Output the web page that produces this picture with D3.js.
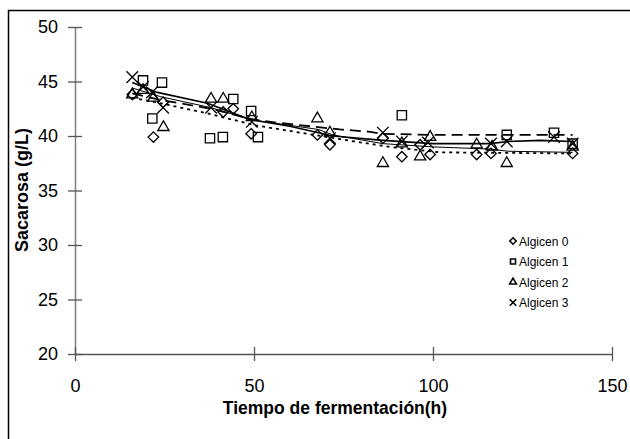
<!DOCTYPE html>
<html>
<head>
<meta charset="utf-8">
<script src="https://cdn.jsdelivr.net/npm/d3@7"></script>
<style>
  body { margin: 0; background: #fff; }
  svg text { font-family: "Liberation Sans", Arial, sans-serif; }
</style>
</head>
<body>
<div id="viz"></div>
<script>
const w = 630, h = 439;

// series data [tiempo (h), sacarosa (g/L)]
const algicen0 = [[16, 43.8], [21.9, 39.9], [24.6, 43.1], [41.4, 42.2], [44.2, 42.5], [49.2, 40.2],
  [67.7, 40.1], [71.2, 39.2], [86, 39.8], [91.3, 38.1], [96.4, 39.2], [99.2, 38.3],
  [112.2, 38.3], [116.2, 38.4], [139, 38.4]];
const algicen1 = [[19, 45.1], [21.6, 41.6], [24.3, 44.9], [37.7, 39.8], [41.3, 39.9], [44.2, 43.4],
  [49.2, 42.3], [51.1, 39.9], [91.3, 41.9], [120.6, 40.1], [133.8, 40.3], [139, 39.3]];
const algicen2 = [[16, 43.8], [19, 44.2], [21.9, 43.5], [24.7, 40.8], [38, 43.4], [41.4, 43.4],
  [49.4, 41.7], [67.7, 41.6], [71.2, 40.3], [86, 37.5], [91.3, 39.3], [96.4, 38.1], [99.2, 39.9],
  [112.2, 39.2], [116.5, 39.0], [120.6, 37.5], [139, 39.0]];
const algicen3 = [[16, 45.4], [19, 44.5], [21.5, 44.0], [24.6, 42.6], [38, 42.6], [49.4, 41.3],
  [71.2, 39.8], [86, 40.3], [91.3, 39.5], [98.6, 39.4], [116.2, 39.3], [120.6, 39.5],
  [133.8, 39.9], [139, 39.3]];

// trend lines
const trend0 = [[16, 43.5], [24, 43.0], [38, 42.0], [50, 41.0], [63, 40.3], [80, 39.4], [88, 39.0], [102, 38.5], [139, 38.4]];
const trend1 = [[16, 43.9], [24, 43.3], [38, 42.5], [50, 41.5], [57, 41.2], [74, 40.6], [82, 40.4], [86, 40.2], [100, 40.1], [139, 40.1]];
const trend2 = [[16, 44.4], [24, 43.6], [38, 42.6], [49, 41.5], [68, 40.6], [72, 40.1], [86, 39.3], [100, 39.0], [116, 38.8], [121, 38.6], [139, 38.5]];
const trend3 = [[16, 44.9], [23, 44.0], [37, 43.0], [49, 41.5], [60, 40.9], [72, 40.0], [86, 39.6], [100, 39.3], [116, 39.3], [121, 39.5], [130, 39.6], [139, 39.5]];

const seriesNames = ["Algicen 0", "Algicen 1", "Algicen 2", "Algicen 3"];
const xTicks = [0, 50, 100, 150];
const yTicks = [20, 25, 30, 35, 40, 45, 50];

const svg = d3.select("#viz")
  .append("svg")
  .attr("width", w)
  .attr("height", h);

// outer frame (only left and top visible)
svg.append("path")
  .attr("d", "M8.5,439 L8.5,10.5 L630,10.5")
  .attr("fill", "none")
  .attr("stroke", "#000")
  .attr("stroke-width", 1.5);

const xScale = d3.scaleLinear().domain([0, 150]).range([75, 612]);
const yScale = d3.scaleLinear().domain([20, 50]).range([354, 27]);

// y axis
const yAxis = svg.append("g").attr("transform", "translate(75,0)")
  .call(d3.axisLeft(yScale).tickValues(yTicks).tickSize(0).tickPadding(17));
yAxis.select(".domain").attr("stroke", "#808080").attr("stroke-width", 1.5);
yAxis.selectAll("text").attr("font-size", 18).attr("fill", "#000");
yAxis.selectAll(".tick").append("line")
  .attr("x1", -7).attr("x2", 7)
  .attr("stroke", "#555").attr("stroke-width", 1.3);

// x axis
const xAxis = svg.append("g").attr("transform", "translate(0,354)")
  .call(d3.axisBottom(xScale).tickValues(xTicks).tickSize(0).tickPadding(25));
xAxis.select(".domain").attr("stroke", "#555").attr("stroke-width", 1.3);
xAxis.selectAll("text").attr("font-size", 18).attr("fill", "#000");
xAxis.selectAll(".tick").append("line")
  .attr("y1", -7).attr("y2", 7)
  .attr("stroke", "#555").attr("stroke-width", 1.3);

// titles
svg.append("text")
  .attr("x", 335).attr("y", 414)
  .attr("text-anchor", "middle")
  .attr("font-size", 17.5).attr("font-weight", "bold")
  .text("Tiempo de fermentación(h)");
svg.append("text")
  .attr("transform", "translate(28,190) rotate(-90)")
  .attr("text-anchor", "middle")
  .attr("font-size", 18).attr("font-weight", "bold")
  .text("Sacarosa (g/L)");

// trend lines
const line = d3.line().x(d => xScale(d[0])).y(d => yScale(d[1]));
const trends = [
  { data: trend0, dash: "3,4", width: 1.8 },
  { data: trend1, dash: "11,6", width: 1.8 },
  { data: trend2, dash: null, width: 1 },
  { data: trend3, dash: null, width: 1.6 }
];
trends.forEach(t => {
  svg.append("path")
    .attr("d", line(t.data))
    .attr("fill", "none")
    .attr("stroke", "#000")
    .attr("stroke-width", t.width)
    .attr("stroke-dasharray", t.dash);
});

// markers
const shapes = [
  d3.symbol().type(d3.symbolDiamond2).size(70),
  d3.symbol().type(d3.symbolSquare2).size(110),
  d3.symbol().type(d3.symbolTriangle2).size(90),
  d3.symbol().type(d3.symbolTimes).size(90)
];
const allSeries = [algicen0, algicen1, algicen2, algicen3];
allSeries.forEach((s, i) => {
  svg.append("g").selectAll("path")
    .data(s)
    .enter()
    .append("path")
    .attr("transform", d => `translate(${xScale(d[0])},${yScale(d[1])})`)
    .attr("d", shapes[i]())
    .attr("fill", "none")
    .attr("stroke", "#000")
    .attr("stroke-width", 1.3);
});

// legend
const small = [
  d3.symbol().type(d3.symbolDiamond2).size(26),
  d3.symbol().type(d3.symbolSquare2).size(32),
  d3.symbol().type(d3.symbolTriangle2).size(32),
  d3.symbol().type(d3.symbolTimes).size(30)
];
const legend = svg.append("g").attr("transform", "translate(513,241)");
seriesNames.forEach((name, i) => {
  const g = legend.append("g").attr("transform", `translate(0,${i * 20.5})`);
  g.append("path")
    .attr("d", small[i]())
    .attr("fill", "none")
    .attr("stroke", "#000")
    .attr("stroke-width", 1.6);
  g.append("text")
    .attr("x", 6).attr("y", 4.5)
    .attr("font-size", 12)
    .text(name);
});
</script>
</body>
</html>
